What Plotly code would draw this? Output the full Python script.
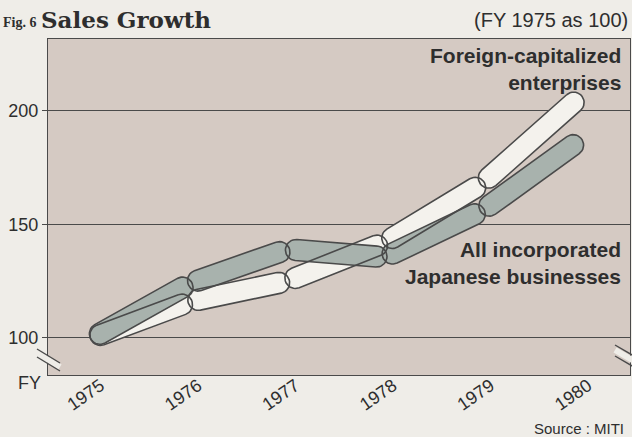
import numpy as np
import plotly.graph_objects as go

# ---- data -------------------------------------------------------------
years = [1975, 1976, 1977, 1978, 1979, 1980]
year_labels = ["1975", "1976", "1977", "1978", "1979", "1980"]
foreign_capitalized = [100, 116, 125, 142, 168, 206]
all_japanese = [100, 124, 139, 135.5, 156, 187]
y_ticks = [100, 150, 200]

# ---- layout geometry ----------------------------------------------------
W, H = 632, 437
M_L, M_R, M_T, M_B = 48, 2, 39, 62
X_RANGE = [1974.544, 1980.513]
Y_RANGE = [83.7, 231.5]
PLOT_W = W - M_L - M_R
PLOT_H = H - M_T - M_B
SX = PLOT_W / (X_RANGE[1] - X_RANGE[0])   # px per year
SY = PLOT_H / (Y_RANGE[1] - Y_RANGE[0])   # px per index point

PAPER = "#efede8"
PLOT_BG = "#d5cac3"
LIGHT_FILL = "#f4f2ed"
DARK_FILL = "#a8b2ad"
OUTLINE = "#4a4a4a"
TEXT = "#2e2e2e"


def capsules(xs, ys, inset=8.5, radius=10.5, n_arc=18):
    """Rounded bars joining consecutive points, returned in data units."""
    out_x, out_y = [], []
    for i in range(len(xs) - 1):
        p0 = np.array([xs[i] * SX, ys[i] * SY])
        p1 = np.array([xs[i + 1] * SX, ys[i + 1] * SY])
        d = p1 - p0
        u = d / np.hypot(*d)
        a = p0 + inset * u
        b = p1 - inset * u
        ang = np.arctan2(u[0], -u[1])  # direction of the left-hand normal
        t1 = np.linspace(ang, ang - np.pi, n_arc)
        t2 = np.linspace(ang - np.pi, ang - 2 * np.pi, n_arc)
        px = np.concatenate([b[0] + radius * np.cos(t1), a[0] + radius * np.cos(t2)])
        py = np.concatenate([b[1] + radius * np.sin(t1), a[1] + radius * np.sin(t2)])
        px = np.append(px, px[0])
        py = np.append(py, py[0])
        out_x += list(px / SX) + [None]
        out_y += list(py / SY) + [None]
    return out_x, out_y


lx, ly = capsules(years, foreign_capitalized)
dx, dy = capsules(years, all_japanese)

fig = go.Figure()
for cx, cy, col, name in [(lx, ly, LIGHT_FILL, "Foreign-capitalized enterprises"),
                          (dx, dy, DARK_FILL, "All incorporated Japanese businesses")]:
    fig.add_trace(go.Scatter(x=cx, y=cy, mode="lines", fill="toself", fillcolor=col,
                             line=dict(width=0, color="rgba(0,0,0,0)"),
                             hoverinfo="skip", name=name, showlegend=False))
for cx, cy in [(lx, ly), (dx, dy)]:
    fig.add_trace(go.Scatter(x=cx, y=cy, mode="lines",
                             line=dict(width=1.6, color=OUTLINE),
                             hoverinfo="skip", showlegend=False))


def px_x(px):
    return (px - M_L) / PLOT_W


def px_y(py):
    return (H - M_B - py) / PLOT_H


annotations = [
    dict(text="<b>Sales Growth</b>", x=px_x(39), y=px_y(20), xanchor="left",
         yanchor="middle", font=dict(family="DejaVu Serif", size=23, color=TEXT)),
    dict(text="<b>Fig. 6</b>", x=px_x(1), y=px_y(23), xanchor="left",
         yanchor="middle", font=dict(family="Liberation Serif", size=14, color=TEXT)),
    dict(text="(FY 1975 as 100)", x=px_x(630), y=px_y(20), xanchor="right",
         yanchor="middle", font=dict(family="Liberation Sans", size=20, color=TEXT)),
    dict(text="<b>Foreign-capitalized<br>enterprises</b>", x=px_x(623), y=px_y(68.5),
         xanchor="right", yanchor="middle", align="right",
         font=dict(family="Liberation Sans", size=21, color=TEXT)),
    dict(text="<b>All incorporated<br>Japanese businesses</b>", x=px_x(623), y=px_y(263),
         xanchor="right", yanchor="middle", align="right",
         font=dict(family="Liberation Sans", size=21, color=TEXT)),
    dict(text="FY", x=px_x(29), y=px_y(383), xanchor="center", yanchor="middle",
         font=dict(family="Liberation Sans", size=18, color=TEXT)),
    dict(text="Source : MITI", x=px_x(626), y=px_y(428), xanchor="right", yanchor="middle",
         font=dict(family="Liberation Sans", size=15, color=TEXT)),
]
for a in annotations:
    a.update(xref="paper", yref="paper", showarrow=False)


def seg(x0, y0, x1, y1, color, width):
    return dict(type="line", xref="paper", yref="paper",
                x0=px_x(x0), y0=px_y(y0), x1=px_x(x1), y1=px_y(y1),
                line=dict(color=color, width=width), layer="above")


# axis-break marks
shapes = [
    seg(37, 353, 60, 367, PAPER, 6),
    seg(37, 349, 60, 363, OUTLINE, 1.4),
    seg(37, 357, 60, 371, OUTLINE, 1.4),
    seg(615, 350, 634, 361, PAPER, 6),
    seg(615, 345, 634, 356, OUTLINE, 1.4),
    seg(615, 356, 634, 367, OUTLINE, 1.4),
]

fig.update_layout(
    width=W, height=H,
    margin=dict(l=M_L, r=M_R, t=M_T, b=M_B, pad=0),
    paper_bgcolor=PAPER, plot_bgcolor=PLOT_BG,
    annotations=annotations, shapes=shapes,
    xaxis=dict(range=X_RANGE, tickvals=years, ticktext=year_labels, tickangle=-35,
               ticks="", showgrid=False, zeroline=False, showline=True, mirror=True,
               linecolor=OUTLINE, linewidth=1.4, ticklabelshift=8, ticklabelstandoff=-8,
               tickfont=dict(family="Liberation Sans", size=18, color=TEXT)),
    yaxis=dict(range=Y_RANGE, tickvals=y_ticks, ticks="outside", ticklen=5,
               tickcolor=OUTLINE, showgrid=True, gridcolor=OUTLINE, gridwidth=1.3,
               zeroline=False, showline=True, mirror=True, linecolor=OUTLINE,
               linewidth=1.4,
               tickfont=dict(family="Liberation Sans", size=18, color=TEXT)),
)

fig.write_html("out.html")
